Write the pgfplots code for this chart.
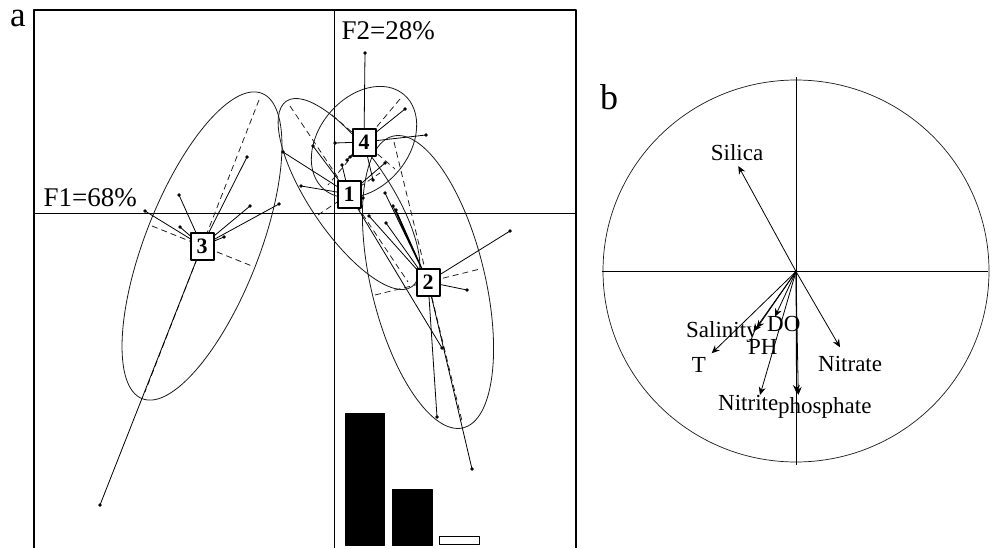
\documentclass[border=0pt]{standalone}
\usepackage{pgfplots}
\pgfplotsset{compat=1.18}
\usepackage{fontspec}
\setmainfont{Liberation Serif}
\usetikzlibrary{arrows.meta}
\begin{document}
\begin{tikzpicture}
\begin{axis}[
  width=993pt, height=548pt, scale only axis,
  xmin=0, xmax=993, ymin=0, ymax=548, y dir=reverse,
  hide axis, clip=false,
  every axis plot/.append style={line join=round},
]
\path (axis cs:0,0) rectangle (axis cs:993,548);
% ---------- panel a frame and axes
\addplot[black, line width=1.1pt, mark=none] coordinates {(34,548) (34,10) (576,10) (576,548)};
\addplot[black, line width=0.9pt, mark=none] coordinates {(34,213) (576,213)};
\addplot[black, line width=0.9pt, mark=none] coordinates {(334,10) (334,548)};
% ---------- ellipses
\draw[black!90, line width=0.8pt, rotate around={68.6:(axis cs:202,246)}] (axis cs:202,246) ellipse [x radius=164pt, y radius=57pt];
\draw[black!90, line width=0.8pt, rotate around={50:(axis cs:364,142)}] (axis cs:364,142) ellipse [x radius=62pt, y radius=45pt];
\draw[black!90, line width=0.8pt, rotate around={-56:(axis cs:349,194)}] (axis cs:349,194) ellipse [x radius=112pt, y radius=40pt];
\draw[black!90, line width=0.8pt, rotate around={-76.5:(axis cs:428,282)}] (axis cs:428,282) ellipse [x radius=150pt, y radius=57pt];
% ---------- dashed ellipse axes
\pgfplotsset{dax/.style={black!90, line width=0.75pt, mark=none, dash pattern=on 6pt off 4pt}}
\addplot[dax] coordinates {(259,100) (145,392)};
\addplot[dax] coordinates {(152,226) (252,266)};
\addplot[dax] coordinates {(400,99) (328,185)};
\addplot[dax] coordinates {(332,115) (395,169)};
\addplot[dax] coordinates {(290,106) (408,282)};
\addplot[dax] coordinates {(318,215) (380,173)};
\addplot[dax] coordinates {(394,142) (462,421)};
\addplot[dax] coordinates {(375,295) (480,269)};
% ---------- star lines (centroid to samples)
\pgfplotsset{star/.style={black, line width=0.8pt, mark=none}}
\addplot[star] coordinates {(202,246) (145,211) (202,246) (179,195) (202,246) (180,227) (202,246) (247,157) (202,246) (250,206) (202,246) (279,204) (202,246) (224,237) (202,246) (100,505)};
\addplot[star] coordinates {(349,194) (283,152) (349,194) (301,186) (349,194) (313,146) (349,194) (342,165) (349,194) (363,198) (349,194) (385,163) (349,194) (442,348)};
\addplot[star] coordinates {(364,142) (365,53) (364,142) (405,109) (364,142) (426,135) (364,142) (335,143) (364,142) (350,157) (364,142) (373,180) (364,142) (347,160)};
\addplot[star] coordinates {(428,282) (385,193) (428,282) (393,206) (428,282) (396,210) (428,282) (369,216) (428,282) (386,223) (428,282) (510,231) (428,282) (467,290) (428,282) (437,417) (428,282) (472,469)};
% ---------- sample dots
\pgfplotsset{dots/.style={only marks, mark=*, mark size=1.5pt, black}}
\addplot[dots] coordinates {(145,211) (179,195) (180,227) (247,157) (250,206) (279,204) (224,237) (100,505)};
\addplot[dots] coordinates {(283,152) (301,186) (313,146) (342,165) (363,198) (385,163) (442,348)};
\addplot[dots] coordinates {(365,53) (405,109) (426,135) (335,143) (350,157) (373,180) (347,160)};
\addplot[dots] coordinates {(385,193) (393,206) (396,210) (369,216) (386,223) (510,231) (467,290) (437,417) (472,469)};
% ---------- centroid labels
\addplot[scatter, only marks, mark=none, point meta=explicit symbolic,
  scatter/@pre marker code/.code={%
    \node[draw=black, fill=white, line width=2pt, minimum width=23pt, minimum height=27pt,
      inner sep=0pt, anchor=center, font=\fontsize{22}{22}\selectfont\bfseries] at (0,0) {\pgfplotspointmeta};},
  scatter/@post marker code/.code={}]
  coordinates {(202,246) [3] (349,194) [1] (364,142) [4] (428,282) [2]};
% ---------- eigenvalue bars
\addplot[fill=black, draw=black, line width=0.6pt, mark=none] coordinates {(345,545) (345,413) (384,413) (384,545)} --cycle;
\addplot[fill=black, draw=black, line width=0.6pt, mark=none] coordinates {(392,545) (392,489) (432,489) (432,545)} --cycle;
\addplot[fill=white, draw=black, line width=0.9pt, mark=none] coordinates {(439,544) (439,536) (479,536) (479,544)} --cycle;
% ---------- panel a texts
\node[anchor=base west, inner sep=0pt, font=\fontsize{35}{35}\selectfont] at (axis cs:10,26.5) {a};
\node[anchor=base west, inner sep=0pt, font=\fontsize{27}{27}\selectfont] at (axis cs:43.5,206.5) {F1=68\%};
\node[anchor=base west, inner sep=0pt, font=\fontsize{27}{27}\selectfont] at (axis cs:341.5,39.5) {F2=28\%};
% ---------- panel b
\draw[black!90, line width=0.7pt] (axis cs:796,271) ellipse [x radius=193pt, y radius=191pt];
\addplot[black, line width=0.8pt, mark=none] coordinates {(602,271) (988,271)};
\addplot[black, line width=0.8pt, mark=none] coordinates {(796,77) (796,465)};
\pgfplotsset{arr/.style={black, line width=0.8pt, mark=none, -{Stealth[length=8pt, width=7pt]}}}
\addplot[arr] coordinates {(796,271.5) (738.3,166)};
\addplot[arr] coordinates {(796,271.5) (711.7,353.3)};
\addplot[arr] coordinates {(796,271.5) (753.3,331.7)};
\addplot[arr] coordinates {(796,271.5) (756.7,328.3)};
\addplot[arr] coordinates {(796,271.5) (775,316.7)};
\addplot[arr] coordinates {(796,271.5) (760,395)};
\addplot[arr] coordinates {(796,271.5) (798.3,395)};
\addplot[arr] coordinates {(796,271.5) (796.5,393)};
\addplot[arr] coordinates {(796,271.5) (840,347.3)};
\node[anchor=base west, inner sep=0pt, font=\fontsize{36}{36}\selectfont] at (axis cs:600,109) {b};
\node[anchor=base, inner sep=0pt, font=\fontsize{23}{23}\selectfont] at (axis cs:737,160) {Silica};
\node[anchor=base, inner sep=0pt, font=\fontsize{23}{23}\selectfont] at (axis cs:699,372.5) {T};
\node[anchor=base west, inner sep=0pt, font=\fontsize{23}{23}\selectfont] at (axis cs:686,337.5) {Salinity};
\node[anchor=base west, inner sep=0pt, font=\fontsize{23}{23}\selectfont] at (axis cs:767,331.5) {DO};
\node[anchor=base west, inner sep=0pt, font=\fontsize{23}{23}\selectfont] at (axis cs:748,354) {PH};
\node[anchor=base west, inner sep=0pt, font=\fontsize{23}{23}\selectfont] at (axis cs:818,371.5) {Nitrate};
\node[anchor=base west, inner sep=0pt, font=\fontsize{23}{23}\selectfont] at (axis cs:718,410) {Nitrite};
\node[anchor=base west, inner sep=0pt, font=\fontsize{23}{23}\selectfont] at (axis cs:778,413.5) {phosphate};
\end{axis}
\end{tikzpicture}
\end{document}
